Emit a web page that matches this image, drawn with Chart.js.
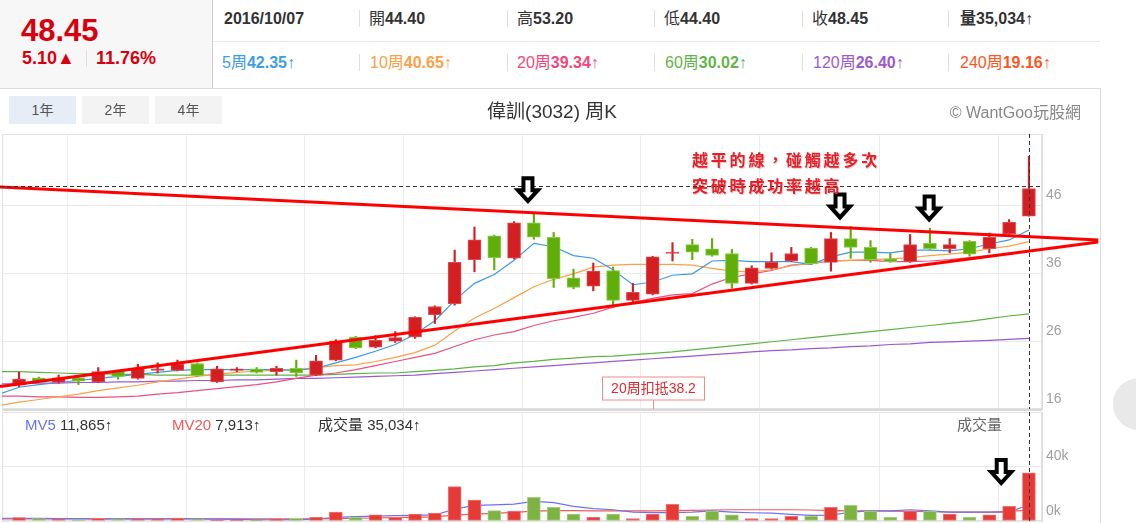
<!DOCTYPE html>
<html>
<head>
<meta charset="utf-8">
<script src="https://cdn.jsdelivr.net/npm/chart.js@4.4.1/dist/chart.umd.min.js"></script>
<style>
  body { margin: 0; width: 1136px; height: 523px; overflow: hidden; background: #fff; position: relative;
         font-family: "Liberation Sans", Arial, "Noto Sans CJK TC", sans-serif; color: #333; }
  .abs { position: absolute; white-space: nowrap; }
  .line { position: absolute; background: #e2e2e2; }
  .sep { position: absolute; width: 1px; height: 17px; background: #e0e0e0; }
  .q1 { position: absolute; top: 9px; font-size: 16px; line-height: 20px; white-space: nowrap; }
  .q2 { position: absolute; top: 53px; font-size: 16px; line-height: 20px; white-space: nowrap; }
  b { font-weight: bold; }
  .btn { position: absolute; top: 96px; width: 67px; height: 28px; line-height: 28px; text-align: center;
         font-size: 14px; color: #555; background: #f3f3f3; }
  .mv { position: absolute; top: 416px; font-size: 15px; line-height: 18px; white-space: nowrap; color: #333; }
  canvas { position: absolute; left: 0; }
</style>
</head>
<body>
<canvas id="priceChart" width="1102" height="282" style="top:130px"></canvas>
<canvas id="volChart" width="1102" height="111" style="top:412px"></canvas>

<!-- quote header -->
<div class="abs" style="left:0;top:0;width:212px;height:88px;background:#f7f7f7;"></div>
<div class="line" style="left:212px;top:0;width:1px;height:88px;background:#cfcfcf;"></div>
<div class="abs" style="left:21px;top:13px;font-size:31px;font-weight:bold;color:#d9000d;">48.45</div>
<div class="abs" style="left:22px;top:48px;font-size:18px;font-weight:bold;color:#d9000d;">5.10▲</div>
<div class="sep" style="left:86px;top:50px;"></div>
<div class="abs" style="left:96px;top:48px;font-size:18px;font-weight:bold;color:#d9000d;">11.76%</div>

<div class="q1" style="left:224px;"><b>2016/10/07</b></div>
<div class="sep" style="left:359px;top:10px;"></div>
<div class="q1" style="left:369px;">開<b>44.40</b></div>
<div class="sep" style="left:507px;top:10px;"></div>
<div class="q1" style="left:517px;">高<b>53.20</b></div>
<div class="sep" style="left:654px;top:10px;"></div>
<div class="q1" style="left:664px;">低<b>44.40</b></div>
<div class="sep" style="left:802px;top:10px;"></div>
<div class="q1" style="left:812px;">收<b>48.45</b></div>
<div class="sep" style="left:948px;top:10px;"></div>
<div class="q1" style="left:960px;"><b>量35,034</b>↑</div>
<div class="line" style="left:213px;top:41px;width:887px;height:1px;background:#e8e8e8;"></div>

<div class="q2" style="left:222px;color:#3d9de6;">5周<b>42.35</b>↑</div>
<div class="sep" style="left:359px;top:54px;"></div>
<div class="q2" style="left:370px;color:#fba047;">10周<b>40.65</b>↑</div>
<div class="sep" style="left:507px;top:54px;"></div>
<div class="q2" style="left:517px;color:#f0477a;">20周<b>39.34</b>↑</div>
<div class="sep" style="left:654px;top:54px;"></div>
<div class="q2" style="left:665px;color:#62b648;">60周<b>30.02</b>↑</div>
<div class="sep" style="left:802px;top:54px;"></div>
<div class="q2" style="left:813px;color:#9d59cf;">120周<b>26.40</b>↑</div>
<div class="sep" style="left:948px;top:54px;"></div>
<div class="q2" style="left:960px;color:#fb5522;">240周<b>19.16</b>↑</div>

<div class="line" style="left:0;top:88px;width:1101px;height:1px;background:#dcdcdc;"></div>
<div class="line" style="left:1100px;top:88px;width:1px;height:435px;background:#dcdcdc;"></div>

<!-- toolbar -->
<div class="btn" style="left:9px;background:#e6edf7;">1年</div>
<div class="btn" style="left:82px;">2年</div>
<div class="btn" style="left:155px;">4年</div>
<div class="abs" style="left:0;top:96px;width:1104px;text-align:center;font-size:19px;color:#333;">偉訓(3032) 周K</div>
<div class="abs" style="right:55px;top:99px;font-size:16px;color:#888;">© WantGoo玩股網</div>

<!-- notes -->
<div class="abs" style="left:692px;top:146px;font-size:16px;line-height:26px;font-weight:bold;color:#ee1c25;letter-spacing:2.8px;text-shadow:1px 1px 1px rgba(0,0,0,0.2);font-family:'Noto Sans CJK TC',sans-serif;">越平的線，碰觸越多次<br>突破時成功率越高</div>

<!-- volume legend -->
<div class="line" style="left:2px;top:409px;width:1040px;height:2px;background:#d8d8d8;"></div>
<div class="mv" style="left:25px;"><span style="color:#6b73f2;">MV5</span> 11,865↑</div>
<div class="mv" style="left:172px;"><span style="color:#f05a5a;">MV20</span> 7,913↑</div>
<div class="mv" style="left:318px;">成交量 35,034↑</div>
<div class="mv" style="left:957px;color:#666;">成交量</div>

<div class="abs" style="left:1113px;top:378px;width:52px;height:52px;border-radius:50%;background:#e9e9e9;"></div>

<script>
// weekly K, one year (52 weeks); averages also carry the week before (week 0)
const weeks = Array.from({length: 52}, (_, i) => i + 1);
const avgWeeks = Array.from({length: 53}, (_, i) => i);

const opens  = [19.5,20.6,19.9,20.6,20.0,21.5,20.5,21.7,21.7,22.7, 20.0,21.7,21.9,21.5,22.0,21.0,23.2,26.6,25.1,26.0,
                26.6,29.9,31.5,38.0,41.5,38.2,43.4,41.3,35.3,34.1, 36.4,32.0,32.9,38.9,40.2,39.6,38.9,34.5,36.7,37.8,
                39.7,37.6,41.1,39.8,38.1,37.7,40.4,39.6,40.7,39.6, 41.8,44.40];
const highs  = [21.4,20.7,21.0,20.8,22.1,21.7,22.6,22.8,23.2,22.8, 22.3,22.1,22.1,22.3,23.2,23.9,26.2,26.7,26.8,27.4,
                29.6,31.2,39.4,42.8,41.6,43.6,44.8,42.0,36.6,37.5, 36.9,34.5,38.5,40.5,41.0,41.1,39.5,37.1,39.0,39.8,
                39.8,42.0,42.9,40.8,38.9,41.7,42.6,41.1,40.8,41.9, 43.9,53.20];
const lows   = [19.3,19.9,19.8,19.6,19.9,20.4,20.4,21.3,21.6,20.8, 19.9,21.5,21.3,21.0,20.8,20.9,23.1,24.9,25.0,25.8,
                26.4,28.6,31.3,36.2,36.5,38.1,41.0,33.9,33.7,33.4, 31.0,31.6,32.8,37.8,38.0,38.5,33.8,34.4,36.6,37.7,
                37.3,36.3,38.2,37.6,37.6,37.6,39.5,39.0,38.5,39.0, 41.7,44.40];
const closes = [20.4,20.0,20.6,20.1,21.5,20.8,22.0,21.9,22.6,20.9, 21.9,21.9,21.4,22.0,21.3,23.1,26.0,25.0,26.1,26.5,
                29.5,31.1,37.6,40.9,38.3,43.4,41.3,35.2,33.9,36.3, 32.0,33.2,38.4,39.1,39.1,38.6,34.5,36.8,37.6,38.9,
                37.4,41.1,39.8,38.0,37.7,40.2,39.6,40.2,38.8,41.3, 43.5,48.45];
// volume in thousand lots
const volumes = [2.4,1.7,1.5,1.0,1.9,1.5,1.5,1.5,2.2,1.5, 0.5,0.5,0.5,1.2,1.9,2.7,6.5,2.7,4.4,2.7,
                 5.1,5.8,25.0,15.3,7.5,7.3,17.2,9.9,5.1,2.7, 5.1,1.7,5.1,12.1,3.4,7.3,4.4,1.7,1.7,3.4,
                 3.4,9.9,11.4,7.3,2.7,7.3,7.3,5.1,2.7,4.4, 10.7,35.034];

const ma5   = [18.2, 19.2,19.6,19.9,20.2,20.5,20.8,21.1,21.4,21.7,21.8, 21.8,21.8,21.8,21.8,21.7,22.0,22.8,23.6,24.5,25.5,
               27.0,29.0,32.0,34.5,35.8,37.9,40.4,39.9,38.6,38.2, 36.5,34.3,34.7,35.7,35.9,37.8,37.9,37.7,37.7,37.7,
               37.3,38.4,39.1,39.1,39.0,39.4,39.4,39.3,39.6,40.3, 40.9,42.35];
const ma10  = [16.5, 17.0,17.4,17.8,18.2,18.7,19.1,19.5,20.0,20.4,20.8, 21.1,21.4,21.6,21.7,21.8,22.1,22.4,22.5,23.0,23.6,
               24.3,25.4,27.5,29.4,30.8,32.4,34.0,35.1,35.9,36.9, 37.2,37.3,37.3,37.3,37.2,36.7,36.3,36.2,36.5,37.1,
               37.5,37.8,37.9,38.0,38.1,38.3,38.6,38.8,39.1,39.6, 40.0,40.65];
const ma20  = [17.9, 17.9,17.8,17.8,17.7,17.7,17.8,17.9,18.2,18.4,18.7, 19.0,19.3,19.6,20.0,20.5,21.0,21.3,21.8,22.4,23.0,
               23.6,24.2,25.2,26.2,26.9,27.4,28.3,29.0,29.5,30.1, 31.0,31.7,32.3,32.8,33.0,34.4,35.4,35.9,36.4,37.2,
               37.4,37.8,37.9,37.9,37.7,37.7,37.8,38.0,38.3,38.6, 38.9,39.34];
const ma60  = [21.5, 21.5,21.4,21.3,21.2,21.2,21.1,21.1,21.0,21.0,21.0, 21.0,21.0,21.0,21.0,21.0,21.0,21.1,21.2,21.3,21.3,
               21.5,21.7,21.9,22.2,22.4,22.8,23.0,23.3,23.5,23.7, 23.8,24.0,24.2,24.4,24.7,25.0,25.3,25.6,25.9,26.2,
               26.5,26.8,27.1,27.4,27.7,28.0,28.3,28.6,28.9,29.3, 29.7,30.02];
const ma120 = [19.7, 19.7,19.8,19.8,19.9,19.9,20.0,20.0,20.1,20.1,20.2, 20.2,20.3,20.3,20.4,20.5,20.5,20.6,20.7,20.8,20.9,
               21.0,21.2,21.4,21.6,21.8,22.0,22.2,22.4,22.6,22.8, 23.0,23.2,23.4,23.6,23.8,24.0,24.2,24.4,24.6,24.7,
               24.9,25.0,25.2,25.3,25.5,25.6,25.8,25.9,26.0,26.1, 26.25,26.40];
const mv5   = [2.0, 2.0,1.9,1.8,1.7,1.6,1.5,1.6,1.6,1.7,1.6, 1.4,1.2,0.9,0.9,1.0,1.4,2.6,3.2,3.6,3.9,
               4.1,4.4,8.6,11.3,11.8,12.3,14.3,13.3,10.7,9.0, 8.2,6.5,6.1,6.1,6.4,7.3,6.5,6.0,5.8,4.8,
               4.1,4.2,6.5,7.3,7.3,8.2,7.3,6.5,6.5,6.5, 6.5,11.865];
const mv20  = [1.6, 1.6,1.6,1.6,1.6,1.6,1.6,1.6,1.6,1.6,1.5, 1.5,1.5,1.5,1.5,1.5,1.6,1.8,2.0,2.2,2.4,
               2.7,3.0,4.3,5.0,5.6,6.3,7.2,7.5,7.5,7.4, 7.3,7.3,7.4,7.6,7.8,8.0,8.2,8.2,8.2,8.2,
               8.0,7.6,7.4,7.3,7.2,7.0,6.8,6.5,6.5,6.5, 7.0,7.913];

const priceTicks = [16, 26, 36, 46];
const volumeTicks = [0, 40];
const gridWeeks = [3.45, 9.45, 15.4, 20.4, 26.4, 32.4, 38.4, 44.45, 50.45];

// hand-drawn triangle lines and markers
const trendWeeks = [0.04, 55.5];
const upperTrend = [48.7, 40.9];
const lowerTrend = [19.3, 40.6];
const arrowWeeks = [26.7, 42.46, 46.96];
const arrowTops  = [50.0, 47.6, 47.3];
const volArrowWeek = 50.6, volArrowTop = 44.4;
const crossWeek = 52, crossPrice = 48.8;
const flagWeek = 33, flagText = '20周扣抵38.2';

const RED = '#d31f22', RED_EDGE = '#e04a4c', GREEN = '#5fae0a', GREEN_EDGE = '#8ccc4c';
const isUp = i => closes[i] >= opens[i];
const avgPts = arr => arr.map((v, i) => ({x: avgWeeks[i], y: v}));

function xScale() {
  return {
    type: 'linear', min: 0.14, max: 52.66, offset: false,
    grid: {color: '#ececec', drawTicks: false, offset: false},
    border: {display: false},
    ticks: {display: false},
    afterBuildTicks: s => { s.ticks = gridWeeks.map(v => ({value: v})); },
    afterFit: s => { s.height = 0; s.paddingLeft = 0; s.paddingRight = 0; }
  };
}

function yScale(min, max, ticks, fmt) {
  return {
    position: 'right', min: min, max: max,
    grid: {color: '#e8e8e8', drawTicks: false},
    border: {display: true, color: '#dcdcdc'},
    ticks: {color: '#a0a0a0', font: {size: 14, family: 'Liberation Sans'}, padding: 4, labelOffset: -10, callback: fmt},
    afterBuildTicks: s => { s.ticks = ticks.map(v => ({value: v})); },
    afterFit: s => { s.width = 60; s.paddingTop = 0; s.paddingBottom = 0; }
  };
}

function drawArrow(ctx, cx, top) {
  ctx.save();
  ctx.beginPath();
  ctx.moveTo(cx - 4.5, top);
  ctx.lineTo(cx + 4.5, top);
  ctx.lineTo(cx + 4.5, top + 12);
  ctx.lineTo(cx + 10, top + 12);
  ctx.lineTo(cx, top + 23);
  ctx.lineTo(cx - 10, top + 12);
  ctx.lineTo(cx - 4.5, top + 12);
  ctx.closePath();
  ctx.fillStyle = '#fff';
  ctx.fill();
  ctx.lineWidth = 4;
  ctx.strokeStyle = '#000';
  ctx.stroke();
  ctx.restore();
}

function dashed(ctx, x1, y1, x2, y2) {
  ctx.save();
  ctx.beginPath();
  ctx.setLineDash([4, 3]);
  ctx.strokeStyle = '#333';
  ctx.lineWidth = 1;
  ctx.moveTo(x1, y1);
  ctx.lineTo(x2, y2);
  ctx.stroke();
  ctx.restore();
}

const framePlugin = {
  id: 'frame',
  beforeDatasetsDraw(chart) {
    const {ctx, chartArea: a} = chart;
    ctx.save();
    ctx.strokeStyle = '#e2e2e2';
    ctx.strokeRect(a.left + 0.5, a.top + 0.5, a.right - a.left - 1, a.bottom - a.top - 1);
    ctx.restore();
  }
};

const priceMarks = {
  id: 'priceMarks',
  afterDatasetsDraw(chart) {
    const {ctx, chartArea: a, scales: {x, y}} = chart;
    // crosshair
    const cx = Math.round(x.getPixelForValue(crossWeek)) + 0.5;
    dashed(ctx, cx, a.top, cx, a.bottom);
    const cy = Math.round(y.getPixelForValue(crossPrice)) + 0.5;
    dashed(ctx, 0, cy, a.right, cy);
    arrowWeeks.forEach((w, i) => drawArrow(ctx, x.getPixelForValue(w), y.getPixelForValue(arrowTops[i])));
    // 20-week deduction flag
    const fx = Math.round(x.getPixelForValue(flagWeek)) + 0.5;
    ctx.save();
    ctx.strokeStyle = '#f08c8c';
    ctx.lineWidth = 1;
    ctx.beginPath();
    ctx.moveTo(fx, a.bottom - 9);
    ctx.lineTo(fx, a.bottom);
    ctx.stroke();
    ctx.fillStyle = '#fff';
    ctx.fillRect(fx - 51, a.bottom - 32, 102, 23);
    ctx.strokeRect(fx - 51, a.bottom - 32, 102, 23);
    ctx.fillStyle = '#e0282e';
    ctx.font = '14px "Liberation Sans", "Noto Sans CJK TC"';
    ctx.textAlign = 'center';
    ctx.textBaseline = 'middle';
    ctx.fillText(flagText, fx, a.bottom - 20);
    ctx.restore();
  }
};

const volMarks = {
  id: 'volMarks',
  afterDatasetsDraw(chart) {
    const {ctx, chartArea: a, scales: {x, y}} = chart;
    const cx = Math.round(x.getPixelForValue(crossWeek)) + 0.5;
    dashed(ctx, cx, a.top, cx, a.bottom);
    drawArrow(ctx, x.getPixelForValue(volArrowWeek), y.getPixelForValue(volArrowTop));
  }
};

const maLine = (data, color, order) => ({
  type: 'line', data: avgPts(data), borderColor: color, borderWidth: 1.2,
  pointRadius: 0, tension: 0, order: order
});

new Chart(document.getElementById('priceChart'), {
  type: 'bar',
  data: {
    datasets: [
      {type: 'line', data: [{x: trendWeeks[0], y: upperTrend[0]}, {x: trendWeeks[1], y: upperTrend[1]}],
       borderColor: '#ff0000', borderWidth: 3, pointRadius: 0, clip: false, order: 0},
      {type: 'line', data: [{x: trendWeeks[0], y: lowerTrend[0]}, {x: trendWeeks[1], y: lowerTrend[1]}],
       borderColor: '#ff0000', borderWidth: 3, pointRadius: 0, clip: false, order: 0},
      {data: weeks.map((w, i) => ({x: w, y: [opens[i], closes[i]]})),
       backgroundColor: weeks.map((w, i) => isUp(i) ? RED : GREEN),
       borderColor: weeks.map((w, i) => isUp(i) ? RED_EDGE : GREEN_EDGE),
       borderWidth: 1, borderSkipped: false, barThickness: 13, grouped: false, order: 1},
      {data: weeks.map((w, i) => ({x: w, y: [lows[i], highs[i]]})),
       backgroundColor: weeks.map((w, i) => isUp(i) ? RED : GREEN),
       barThickness: 1.5, grouped: false, order: 2},
      maLine(ma5, '#3a9be5', 3),
      maLine(ma10, '#fba047', 3),
      maLine(ma20, '#ee4f7e', 3),
      maLine(ma60, '#5cb544', 3),
      maLine(ma120, '#9b59cf', 3)
    ]
  },
  options: {
    responsive: false,
    animation: false,
    layout: {padding: {left: 2, right: 0, top: 4, bottom: 3}},
    plugins: {legend: {display: false}, tooltip: {enabled: false}},
    scales: {
      x: xScale(),
      y: yScale(16, 56.5, priceTicks, v => v)
    }
  },
  plugins: [framePlugin, priceMarks]
});

new Chart(document.getElementById('volChart'), {
  type: 'bar',
  data: {
    datasets: [
      {data: weeks.map((w, i) => ({x: w, y: volumes[i]})),
       backgroundColor: weeks.map((w, i) => isUp(i) ? '#e53a35' : '#7cb342'),
       borderColor: weeks.map((w, i) => isUp(i) ? '#f07373' : '#a6d07c'),
       borderWidth: 1, borderSkipped: false, barThickness: 13, grouped: false, order: 1},
      maLine(mv5, '#6b73f2', 2),
      maLine(mv20, '#f05a5a', 2)
    ]
  },
  options: {
    responsive: false,
    animation: false,
    layout: {padding: {left: 2, right: 0, top: 0, bottom: 2}},
    plugins: {legend: {display: false}, tooltip: {enabled: false}},
    scales: {
      x: xScale(),
      y: yScale(0, 79.3, volumeTicks, v => v + 'k')
    }
  },
  plugins: [framePlugin, volMarks]
});
</script>
</body>
</html>
